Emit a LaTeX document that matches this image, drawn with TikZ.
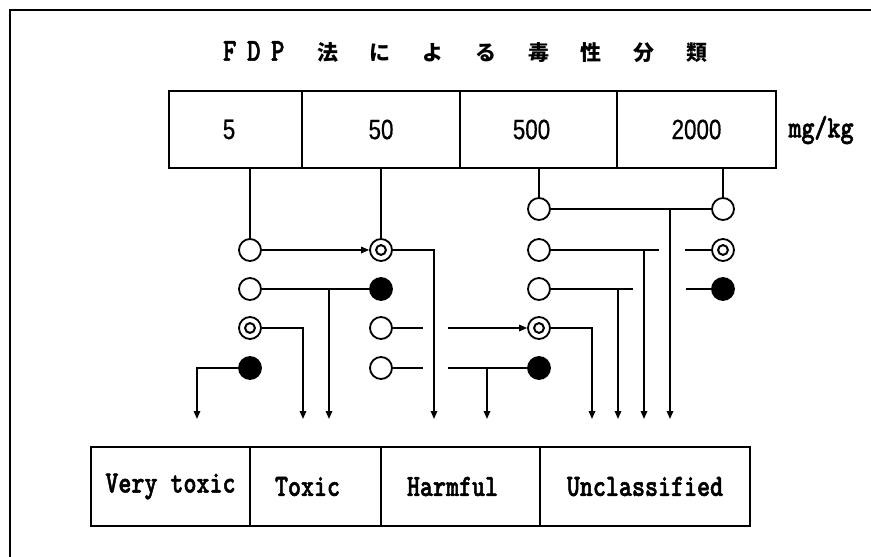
\documentclass[tikz,border=0pt]{standalone}
\usepackage{fontspec}
\usetikzlibrary{arrows.meta}
\newfontfamily\labfont{lmmonolt10-bold.otf}[FakeStretch=0.8,FakeBold=1.6]
\newfontfamily\numfont{Liberation Sans}[FakeStretch=0.8,FakeBold=0.6]
\newfontfamily\cjkfont{Noto Sans CJK JP}
\newcommand\lab{\labfont\fontsize{31}{32}\selectfont}
\newcommand\num{\numfont\fontsize{28}{30}\selectfont}
\begin{document}
\begin{tikzpicture}[x=1pt,y=-1pt,line width=1.6pt,
  cell/.style={draw,line width=1.8pt,inner sep=0pt,minimum height=77pt},
  bcell/.style={draw,line width=1.8pt,inner sep=0pt,minimum height=79pt},
  oc/.style={circle,draw,line width=1.8pt,fill=white,minimum size=22pt,inner sep=0pt},
  fc/.style={circle,draw,line width=1.8pt,fill=black,minimum size=22pt,inner sep=0pt},
  dc/.style={oc,path picture={\draw[line width=2pt] (path picture bounding box.center) circle (4.9pt);}},
  arr/.style={-{Triangle[length=8pt,width=6.5pt]}},
  ln/.style={line width=1.6pt}]
\useasboundingbox (0,0) rectangle (871,557);
% frame
\draw[line width=2pt] (10,557) -- (10,10) -- (871,10);
% title
\node[anchor=west,inner sep=0pt] (title) at (217,52) {\labfont\fontsize{32}{32}\selectfont
  \makebox[24pt]{F}\makebox[24pt]{D}\makebox[24pt]{P}\hspace{11.65pt}%
  \cjkfont\bfseries\fontsize{21}{21}\selectfont
  \makebox[52.7pt]{法}\makebox[52.7pt]{に}\makebox[52.7pt]{よ}\makebox[52.7pt]{る}%
  \makebox[52.7pt]{毒}\makebox[52.7pt]{性}\makebox[52.7pt]{分}\makebox[52.7pt]{類}};
% top cells
\node[cell,minimum width=133pt] (t5) at (235.5,129.5) {\num\hspace*{-13pt}5};
\node[cell,minimum width=158pt] (t50) at (381,129.5) {\num 50};
\node[cell,minimum width=157pt] (t500) at (538.5,129.5) {\num\hspace*{-14pt}500};
\node[cell,minimum width=159pt] (t2000) at (696.5,129.5) {\num 2000};
\node (unit) at (821,130) {\lab mg/kg};
% bottom cells
\node[bcell,minimum width=159pt] (vt) at (170.5,486.5) {\lab Very toxic};
\node[bcell,minimum width=131pt] (tx) at (315.5,486.5) {\lab\hspace*{-16pt}Toxic};
\node[bcell,minimum width=159pt] (hm) at (460.5,486.5) {\lab\hspace*{-16pt}Harmful};
\node[bcell,minimum width=210pt] (uc) at (645,486.5) {\lab Unclassified};
% circles
\node[oc] (a2) at (250,250) {};
\node[oc] (a3) at (250,289) {};
\node[dc] (a4) at (250,328) {};
\node[fc] (a5) at (250,368) {};
\node[dc] (b2) at (381,250) {};
\node[fc] (b3) at (381,289) {};
\node[oc] (b4) at (381,328) {};
\node[oc] (b5) at (381,368) {};
\node[oc] (c1) at (539,209) {};
\node[oc] (c2) at (539,250) {};
\node[oc] (c3) at (539,289) {};
\node[dc] (c4) at (539,328) {};
\node[fc] (c5) at (539,368) {};
\node[oc] (d1) at (723,209) {};
\node[dc] (d2) at (723,250) {};
\node[fc] (d3) at (723,289) {};
% arrow end points
\coordinate (e1) at (197,419);
\coordinate (e2) at (303,419);
\coordinate (e3) at (329,419);
\coordinate (e4) at (434,419);
\coordinate (e5) at (487,419);
\coordinate (e6) at (592,419);
\coordinate (e7) at (618,419);
\coordinate (e8) at (644,419);
\coordinate (e9) at (670,419);
% stub ends
\coordinate (b4x) at (423,328);
\coordinate (c4x) at (448,328);
\coordinate (b5x) at (423,368);
\coordinate (c5x) at (448,368);
\coordinate (c3x) at (633,289);
\coordinate (d3x) at (686,289);
\coordinate (c2x) at (659,250);
\coordinate (d2x) at (685,250);
% from top cells
\draw[ln] (a2 |- t5.south) -- (a2.north);
\draw[ln] (b2 |- t50.south) -- (b2.north);
\draw[ln] (c1 |- t500.south) -- (c1.north);
\draw[ln] (d1 |- t2000.south) -- (d1.north);
% connectors
\draw[ln,arr] (a2.east) -- (b2.west);
\draw[ln,arr] (b2.east) -| (e4);
\draw[ln] (a3.east) -- (b3.west);
\draw[ln,arr] (e3 |- a3) -- (e3);
\draw[ln,arr] (a4.east) -| (e2);
\draw[ln,arr] (a5.west) -| (e1);
\draw[ln] (b4.east) -- (b4x);
\draw[ln,arr] (c4x) -- (c4.west);
\draw[ln] (b5.east) -- (b5x);
\draw[ln] (c5x) -- (c5.west);
\draw[ln,arr] (e5 |- c5) -- (e5);
\draw[ln,arr] (c4.east) -| (e6);
\draw[ln] (c3.east) -- (c3x);
\draw[ln,arr] (e7 |- c3) -- (e7);
\draw[ln] (d3x) -- (d3.west);
\draw[ln] (c2.east) -- (c2x);
\draw[ln,arr] (e8 |- c2) -- (e8);
\draw[ln] (d2x) -- (d2.west);
\draw[ln] (c1.east) -- (d1.west);
\draw[ln,arr] (e9 |- c1) -- (e9);
\end{tikzpicture}
\end{document}
